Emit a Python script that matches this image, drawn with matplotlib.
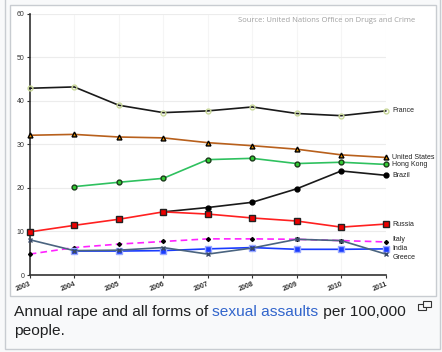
import numpy as np
import matplotlib
matplotlib.use("Agg")
import matplotlib.pyplot as plt
from matplotlib.patches import Rectangle

years = [2003, 2004, 2005, 2006, 2007, 2008, 2009, 2010, 2011]
nan = np.nan

france = [42.9, 43.2, 39.0, 37.3, 37.7, 38.6, 37.1, 36.6, 37.7]
united_states = [32.1, 32.3, 31.7, 31.5, 30.4, 29.7, 28.9, 27.6, 27.0]
hong_kong = [nan, 20.3, 21.3, 22.2, 26.5, 26.8, 25.6, 25.9, 25.4]
brazil = [nan, nan, nan, 14.5, 15.5, 16.7, 19.8, 23.9, 22.9]
russia = [9.9, 11.4, 12.8, 14.5, 14.0, 13.1, 12.4, 11.0, 11.7]
italy = [4.8, 6.3, 7.1, 7.7, 8.3, 8.3, 8.2, 7.9, 7.6]
india = [nan, 5.5, 5.5, 5.6, 6.0, 6.3, 5.9, 5.9, 6.0]
greece = [8.1, 5.6, 5.7, 6.3, 4.8, 6.2, 8.2, 7.9, 4.8]

caption_plain = "Annual rape and all forms of "
caption_link = "sexual assaults"
caption_rest = " per 100,000"
caption_line2 = "people."
source = "Source: United Nations Office on Drugs and Crime"

W, H = 442, 352
fig = plt.figure(figsize=(W / 100, H / 100), dpi=100, facecolor="#f8f9fa")

def px(x0, y0, x1, y1, z=-5, **kw):
    # rectangle given in pixel coords measured from the top-left corner
    r = Rectangle((x0 / W, 1 - y1 / H), (x1 - x0) / W, (y1 - y0) / H,
                  transform=fig.transFigure, zorder=z, **kw)
    fig.patches.append(r)

px(5, -2, 440, 349, facecolor="#f8f9fa", edgecolor="#c8ccd1", lw=1)
px(10, 5, 436, 296, facecolor="white", edgecolor="#c8ccd1", lw=1)

ax = fig.add_axes([29.7 / W, 1 - 275 / H, (385.7 - 29.7) / W, (275 - 13.8) / H])
ax.set_facecolor("none")

series = [
    ("France", france, dict(color="#1a1a1a", marker="o", mfc="none", mec="#c9d89a", ms=3.5)),
    ("United States", united_states, dict(color="#b8601c", marker="^", mfc="#e08a00", mec="black", ms=3.5)),
    ("Hong Kong", hong_kong, dict(color="#2fc15f", marker="o", mfc="#33cc33", mec="#1a3a1a", ms=3.5)),
    ("Brazil", brazil, dict(color="#1a1a1a", marker="o", mfc="black", mec="black", ms=3.5)),
    ("Russia", russia, dict(color="#ff2020", marker="s", mfc="#ee0000", mec="#222222", ms=4.5)),
    ("Italy", italy, dict(color="#ff22ff", ls=(0, (4, 2.5)), marker="D", mfc="black", mec="black", ms=2)),
    ("India", india, dict(color="#1a3cff", marker="s", mfc="#1a3cff", mec="#9aaaff", ms=4)),
    ("Greece", greece, dict(color="#4a6480", marker="x", mec="#3a4a66", ms=3.5, mew=1)),
]
label_shift = {"Italy": 0.5, "Greece": -0.8}

for name, vals, style in series:
    ax.plot(years, vals, lw=1.2, clip_on=False, zorder=3, **style)
    ax.text(2011.15, vals[-1] + label_shift.get(name, 0), name, fontsize=5,
            family="Liberation Sans", color="#222222", va="center", ha="left")

ax.set_xlim(2003, 2011)
ax.set_ylim(0, 60)
ax.set_xticks(years)
ax.set_yticks(range(0, 61, 10))
ax.set_xticklabels([str(y) for y in years], rotation=22, ha="right",
                   rotation_mode="anchor", fontsize=5, fontweight="bold",
                   family="Liberation Sans", color="#333333")
ax.set_yticklabels([str(v) for v in range(0, 61, 10)], fontsize=5,
                   family="Liberation Sans", color="#333333")
ax.tick_params(length=2, width=0.8, color="#333333", pad=2)
ax.grid(True, axis="y", color="#ececec", lw=0.8)
ax.grid(True, axis="x", color="#f5f5f5", lw=0.8)
ax.set_axisbelow(True)
for s in ["top", "right"]:
    ax.spines[s].set_visible(False)
for s in ["left", "bottom"]:
    ax.spines[s].set_color("#333333")
    ax.spines[s].set_linewidth(1.2)

fig.text(415 / W, 1 - 20 / H, source, fontsize=5.5, family="Open Sans",
         color="#a0a0a0", ha="right", va="center")

# caption with the link coloured part
renderer = fig.canvas.get_renderer()
x = 14 / W
yb = 1 - 316 / H
for txt, col in [(caption_plain, "#202122"), (caption_link, "#3366cc"), (caption_rest, "#202122")]:
    t = fig.text(x, yb, txt, fontsize=11.15, family="Liberation Sans", color=col,
                 va="baseline", ha="left")
    bb = t.get_window_extent(renderer)
    x += bb.width / W
fig.text(14 / W, 1 - 334.5 / H, caption_line2, fontsize=11.15, family="Liberation Sans",
         color="#202122", va="baseline", ha="left")

# small enlarge icon
px(418, 304, 426, 310, z=2, facecolor="none", edgecolor="#333333", lw=0.8)
px(423, 301, 431, 307, z=3, facecolor="#f8f9fa", edgecolor="#333333", lw=0.8)

fig.savefig("out.png", dpi=100, facecolor=fig.get_facecolor())
